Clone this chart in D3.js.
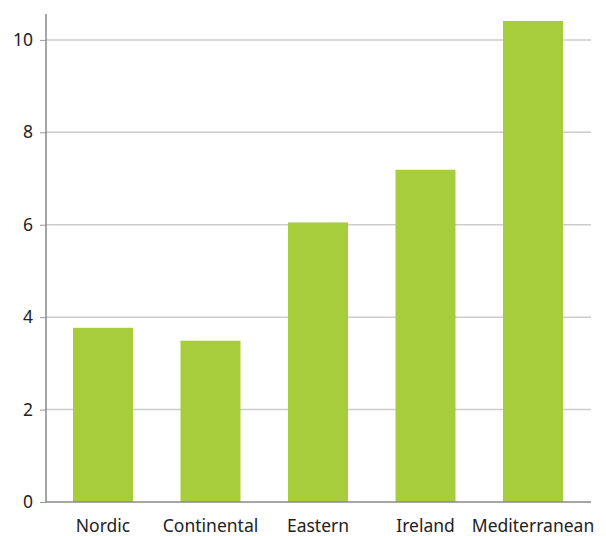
<!DOCTYPE html>
<html>
<head>
<meta charset="utf-8">
<script src="https://cdn.jsdelivr.net/npm/d3@7"></script>
<style>
  html, body { margin: 0; padding: 0; background: #fff; }
  svg { display: block; }
  text { font-family: "Noto Sans", sans-serif; fill: #222; }
</style>
</head>
<body>
<svg id="chart" width="606" height="536"></svg>
<script>
const categories = ["Nordic", "Continental", "Eastern", "Ireland", "Mediterranean"];
const values = [3.77, 3.49, 6.05, 7.19, 10.41];
const yTicks = [0, 2, 4, 6, 8, 10];

(function () {
const svg = d3.select("#chart");
const mLeft = 46, mRight = 591, mTop = 14, mBottom = 502;

const y = d3.scaleLinear().domain([0, 10.56]).range([mBottom, mTop]);
const x = d3.scaleBand().domain(categories)
  .range([49.25, 586.75]).paddingInner(0.442).paddingOuter(0.221);

// gridlines
svg.append("g")
  .selectAll("line").data(yTicks.filter(d => d > 0)).join("line")
  .attr("x1", mLeft).attr("x2", mRight)
  .attr("y1", d => y(d)).attr("y2", d => y(d))
  .attr("stroke", "#cccccc").attr("stroke-width", 1.5);

// bars
svg.append("g")
  .selectAll("rect").data(categories).join("rect")
  .attr("x", d => x(d))
  .attr("width", x.bandwidth())
  .attr("y", (d, i) => y(values[i]))
  .attr("height", (d, i) => mBottom - y(values[i]))
  .attr("fill", "#a8cd3c");

// y axis
const yAxis = d3.axisLeft(y).tickValues(yTicks).tickSize(6).tickPadding(7).tickFormat(d3.format("d"));
const gy = svg.append("g").attr("transform", `translate(${mLeft},0)`).call(yAxis);
gy.select(".domain").remove();
gy.selectAll(".tick line").attr("stroke", "#999");
gy.selectAll(".tick text").style("font-size", "17.5px").attr("fill", "#222");
gy.append("line").attr("x1", 0).attr("x2", 0).attr("y1", mTop).attr("y2", mBottom)
  .attr("stroke", "#888").attr("stroke-width", 1.5);

// x axis
const xAxis = d3.axisBottom(x).tickSize(0).tickPadding(18);
const gx = svg.append("g").attr("transform", `translate(0,${mBottom})`).call(xAxis);
gx.select(".domain").remove();
gx.selectAll(".tick text").style("font-size", "17.5px").attr("fill", "#222");
gx.append("line").attr("x1", mLeft).attr("x2", mRight).attr("y1", 0).attr("y2", 0)
  .attr("stroke", "#888").attr("stroke-width", 1.5);
})();
</script>
</body>
</html>
